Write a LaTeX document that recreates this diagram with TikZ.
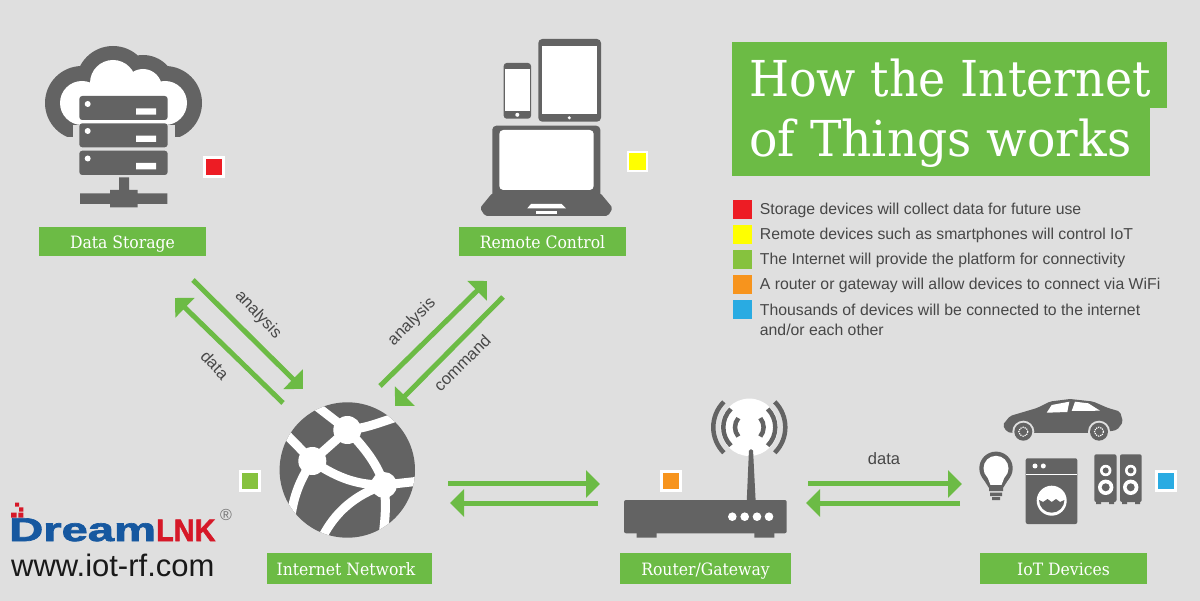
\documentclass[tikz,border=0pt]{standalone}
\usepackage{graphicx}
\usepackage{fontspec}
\setmainfont{Liberation Sans}
\newfontfamily\slabfont[FakeStretch=0.92]{DejaVu Serif}
\newfontfamily\logofont[FakeBold=2]{Liberation Sans Bold}
\usetikzlibrary{positioning,arrows.meta}
\definecolor{paper}{RGB}{223,223,223}
\definecolor{leaf}{RGB}{108,187,69}
\definecolor{slate}{RGB}{99,99,99}
\definecolor{keyred}{RGB}{237,28,36}
\definecolor{keyyellow}{RGB}{255,255,0}
\definecolor{keygreen}{RGB}{134,194,62}
\definecolor{keyorange}{RGB}{247,148,29}
\definecolor{keyblue}{RGB}{41,171,226}
\definecolor{logoblue}{RGB}{22,88,160}
\definecolor{logored}{RGB}{214,24,40}

\begin{document}
\begin{tikzpicture}[x=1pt,y=-1pt,
    tag/.style={fill=leaf,text=white,font=\slabfont\fontsize{17}{18}\selectfont,minimum width=167pt,minimum height=29pt,inner sep=0pt,text height=13pt,text depth=0pt},
    mark box/.style={draw=white,line width=2.5pt,minimum size=19pt,inner sep=0pt},
    key/.style={minimum size=19pt,inner sep=0pt},
    keytext/.style={right=8pt of #1,text=black!72,font=\fontsize{15.8}{19.5}\selectfont,inner sep=0pt,align=left},
    flow/.style={draw=leaf,line width=5pt,-{Triangle[length=14pt,width=27pt]}},
    flowtext/.style={text=black!72,font=\fontsize{16.5}{18}\selectfont,inner sep=0pt},
    headline/.style={text=white,font=\slabfont\fontsize{49.5}{52}\selectfont,inner sep=0pt,anchor=base west},
    solid dark/.style={fill=slate,draw=none}]
    \useasboundingbox (0,0) rectangle (1200,601);
    \fill[paper] (0,0) rectangle (1200,601);

    % title
    \fill[leaf] (732,42) rectangle (1167,108);
    \fill[leaf] (732,108) rectangle (1150,176);
    \node[headline] (t1) at (749,97) {\scalebox{1.008}[1]{How the Internet}};
    \node[headline] (t2) at (749,157) {\scalebox{1.037}[1]{of Things works}};

    % legend
    \node[key,fill=keyred] (k1) at (742,210) {};
    \node[keytext=k1] (l1) {Storage devices will collect data for future use};
    \node[key,fill=keyyellow] (k2) at (742,235) {};
    \node[keytext=k2] (l2) {Remote devices such as smartphones will control IoT};
    \node[key,fill=keygreen] (k3) at (742,260) {};
    \node[keytext=k3] (l3) {The Internet will provide the platform for connectivity};
    \node[key,fill=keyorange] (k4) at (742,285) {};
    \node[keytext=k4] (l4) {A router or gateway will allow devices to connect via WiFi};
    \node[key,fill=keyblue] (k5) at (742,310) {};
    \node[keytext=k5,anchor=north west,yshift=6pt] (l5) {Thousands of devices will be connected to the internet\\and/or each other};

    % data storage icon
    \begin{scope}
      \clip (30,30) rectangle (220,137);
      \fill[slate] (82,103) circle (37) (113,83) circle (37) (143,88) circle (33) (165,103) circle (37);
    \end{scope}
    \fill[paper] (72.7,125) rectangle (175,140);
    \fill[white] (82,103) circle (22) (113,83) circle (23) (143,88) circle (19) (165,103) circle (22);
    \fill[white] (82,90) rectangle (165,127);
    \fill[solid dark,rounded corners=3pt] (79.3,96) rectangle (167.7,120);
    \fill[solid dark,rounded corners=3pt] (79.3,123.3) rectangle (167.7,147.3);
    \fill[solid dark,rounded corners=3pt] (79.3,150.7) rectangle (167.7,175);
    \fill[white] (87.7,104) circle (3) (87.7,131) circle (3) (87.7,158.5) circle (3);
    \fill[white] (136,108.3) rectangle (156,114.7) (136,135.6) rectangle (156,142) (136,163) rectangle (156,169.4);
    \fill[slate] (119,177.3) rectangle (129,192) (80,193.3) rectangle (167.3,204) (110,190) rectangle (137.7,207.3);
    \node[mark box,fill=keyred] (m1) at (214,167) {};
    \node[tag] (store) at (122.5,242) {Data Storage};

    % remote control icon
    \fill[slate,rounded corners=4pt] (538.3,39) rectangle (601,121.7);
    \fill[white] (542.3,46) rectangle (597,114);
    \fill[white] (569.3,117.8) circle (1.7);
    \fill[slate,rounded corners=3pt] (503.7,63) rectangle (531,118.7);
    \fill[white] (505,69.3) rectangle (529.7,111);
    \fill[white] (517.3,114.8) circle (2);
    \fill[slate,rounded corners=4pt] (492.3,200) -- (492.3,125.7) -- (600.3,125.7) -- (600.3,200) -- cycle;
    \fill[slate,rounded corners=2pt] (492.3,193) -- (480,208) -- (485,216) -- (608,216) -- (612.7,208) -- (600.3,193) -- cycle;
    \fill[white,rounded corners=4pt] (499.3,130) rectangle (593.7,190);
    \fill[white] (531,204) -- (561.7,204) -- (566,208.3) -- (527.3,208.3) -- cycle;
    \fill[white] (536,211.3) rectangle (557.3,213.7);
    \node[mark box,fill=keyyellow] (m2) at (637.5,161.5) {};
    \node[tag] (remote) at (542.5,242) {Remote Control};

    % globe icon
    \fill[slate] (347.3,470) circle (67.7);
    \begin{scope}
      \clip (347.3,470) circle (67.7);
      \draw[white,line width=9pt] (315,405) -- (347.3,430) -- (312.3,461) -- (284,432);
      \draw[white,line width=9pt] (347.3,430) .. controls (368,428) and (380,422) .. (400,416);
      \draw[white,line width=9pt] (347.3,430) .. controls (365,448) and (378,465) .. (384,485);
      \draw[white,line width=9pt] (312.3,461) .. controls (340,480) and (360,485) .. (384,485);
      \draw[white,line width=9pt] (312.3,461) .. controls (300,480) and (294,495) .. (291,516);
      \draw[white,line width=9pt] (384,485) -- (420,481);
      \draw[white,line width=9pt] (384,485) .. controls (386,500) and (386,515) .. (383,535);
      \draw[white,line width=9pt] (384,485) .. controls (355,495) and (335,512) .. (322,538);
    \end{scope}
    \fill[white] (347.3,430) circle (14) (312.3,461) circle (14) (384,485) circle (13);
    \node[mark box,fill=keygreen] (m3) at (250,481) {};
    \node[tag,minimum width=165pt,minimum height=31pt] (net) at (349.5,568.5) {\hspace*{-7pt}Internet Network};

    % router icon
    \fill[white] (749.3,427.3) circle (28.7);
    \draw[slate,line width=4.5pt] (749.3,427.3) ++(140:14.3) arc (140:220:14.3);
    \draw[slate,line width=4.5pt] (749.3,427.3) ++(135:26) arc (135:225:26);
    \draw[slate,line width=4.5pt] (749.3,427.3) ++(135:36) arc (135:225:36);
    \draw[slate,line width=4.5pt] (749.3,427.3) ++(40:14.3) arc (40:-40:14.3);
    \draw[slate,line width=4.5pt] (749.3,427.3) ++(45:26) arc (45:-45:26);
    \draw[slate,line width=4.5pt] (749.3,427.3) ++(45:36) arc (45:-45:36);
    \fill[slate,rounded corners=1.5pt] (746.7,502) -- (749,449.3) -- (753,449.3) -- (755.7,502) -- cycle;
    \fill[slate,rounded corners=2pt] (624,500) rectangle (786.7,533.3);
    \fill[slate] (636.7,530) rectangle (656.7,537.7) (754.3,530) rectangle (774.3,537.7);
    \fill[white] (732.3,516.7) circle (4.3) (744.7,516.7) circle (4.3) (757,516.7) circle (4.3) (769,516.7) circle (4.3);
    \node[mark box,fill=keyorange] (m4) at (671,481) {};
    \node[tag,minimum width=171pt,minimum height=31pt] (router) at (705.5,568.5) {Router/Gateway};

    % iot devices icon
    \fill[slate,rounded corners=2pt] (1002.7,425) -- (1010,416) -- (1037,408) -- (1050,401.5) -- (1070,399) -- (1093,401.5) -- (1108,408) -- (1120,411.5) -- (1123,422) -- (1117,430) -- (1100,433) -- (1012,433) -- (1006.7,431.7) -- cycle;
    \fill[white] (1046.7,412.7) -- (1051.7,405) -- (1069.3,401.7) -- (1067.3,412) -- cycle;
    \fill[white] (1071.7,411) -- (1075,401.7) -- (1088.3,403.3) -- (1100,410.7) -- cycle;
    \fill[paper] (1023.3,431.7) circle (11) (1099,431.7) circle (11);
    \fill[slate] (1023.3,431.7) circle (9) (1099,431.7) circle (9);
    \draw[white,line width=1.2pt,densely dotted] (1023.3,431.7) circle (4.5) (1099,431.7) circle (4.5);
    % bulb
    \fill[slate] (996,468.3) circle (16.7);
    \fill[slate] (982,477) -- (1010,477) -- (1003,488) -- (989,488) -- cycle;
    \fill[white] (996,468.3) circle (12.5);
    \fill[white] (987,476) -- (1005,476) -- (1001.5,485) -- (990.5,485) -- cycle;
    \fill[slate] (989,488) rectangle (1003,491) (990,492.5) rectangle (1002,496) (992,497) rectangle (1000,500);
    % washer
    \fill[slate,rounded corners=2pt] (1025.7,458.3) rectangle (1077.3,524);
    \fill[white] (1025.7,474.5) rectangle (1077.3,475.5);
    \fill[white] (1035,466) circle (2.5) (1043.3,466) circle (2.5);
    \fill[white] (1051.7,500.7) circle (15);
    \fill[slate] (1039,500) arc (180:0:12.7) -- (1060,502) -- (1056,499) -- (1051.7,502) -- (1047.5,499) -- (1043,502) -- cycle;
    % speakers
    \fill[slate,rounded corners=2pt] (1094.3,454.3) rectangle (1116.5,502) (1120,454.3) rectangle (1141.7,502);
    \fill[slate] (1096,501) rectangle (1101,504) (1109,501) rectangle (1114,504) (1122,501) rectangle (1127,504) (1135,501) rectangle (1140,504);
    \fill[white] (1105.7,470.5) circle (5.7) (1130.7,470.5) circle (5.7) (1105.7,487.3) circle (7.7) (1130.7,487.3) circle (7.7);
    \fill[slate] (1105.7,470.5) circle (3) (1130.7,470.5) circle (3) (1105.7,487.3) circle (4) (1130.7,487.3) circle (4);
    \node[mark box,fill=keyblue] (m5) at (1166,481) {};
    \node[tag,minimum height=31pt] (iot) at (1063.5,568.5) {IoT Devices};

    % arrows
    \coordinate (sa1) at (193,280); \coordinate (sa2) at (303,389);
    \coordinate (sd1) at (283,403); \coordinate (sd2) at (175,298);
    \coordinate (ra1) at (380,386); \coordinate (ra2) at (487,281);
    \coordinate (rc1) at (503,297); \coordinate (rc2) at (395,406);
    \coordinate (gw1) at (448,484); \coordinate (gw2) at (600,484);
    \coordinate (gw3) at (598,503); \coordinate (gw4) at (450,503);
    \coordinate (dv1) at (808,484); \coordinate (dv2) at (962,484);
    \coordinate (dv3) at (960,503); \coordinate (dv4) at (806,503);
    \draw[flow] (sa1) -- (sa2);
    \draw[flow] (sd1) -- (sd2);
    \draw[flow] (ra1) -- (ra2);
    \draw[flow] (rc1) -- (rc2);
    \draw[flow] (gw1) -- (gw2);
    \draw[flow] (gw3) -- (gw4);
    \draw[flow] (dv1) -- (dv2);
    \draw[flow] (dv3) -- (dv4);
    \node[flowtext,rotate=-47] (an1) at (258,315) {analysis};
    \node[flowtext,rotate=-47] (da1) at (215,365) {data};
    \node[flowtext,rotate=45] (an2) at (412,322) {analysis};
    \node[flowtext,rotate=45] (co1) at (462,363) {command};
    \node[flowtext] (da2) at (884,459) {data};

    % logo
    \fill[logored] (15,502.7) rectangle (19,506.7) (19,507.3) rectangle (23.3,511.7) (11,512.7) rectangle (16.7,517.7) (18.3,512.7) rectangle (23.3,517.7);
    \node[anchor=base west,inner sep=0pt,text=logoblue,font=\logofont\fontsize{33}{33}\selectfont] (dream) at (9,541) {\scalebox{1.43}[1]{Dream}};
    \node[anchor=base west,inner sep=0pt,text=logored,font=\logofont\fontsize{31}{31}\selectfont] (lnk) at (156,541) {\scalebox{0.93}[1]{LNK}};
    \node[inner sep=0pt,text=black!55,font=\fontsize{16}{16}\selectfont] (reg) at (226,515) {®};
    \node[anchor=base west,inner sep=0pt,text=black!90,font=\fontsize{31}{31}\selectfont] (web) at (11,576) {www.iot-rf.com};
\end{tikzpicture}
\end{document}
